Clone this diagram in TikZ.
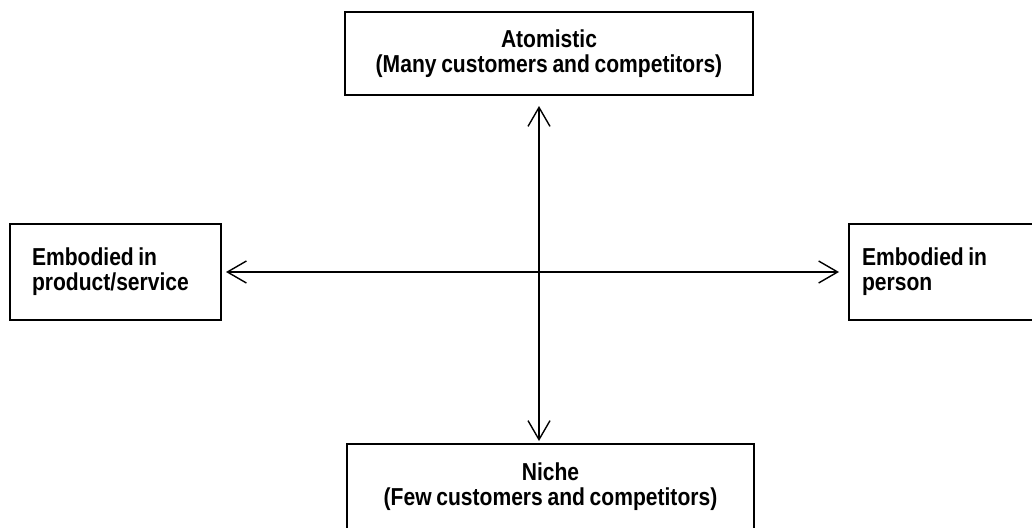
\documentclass[tikz,border=0pt]{standalone}
\usepackage{fontspec}
\setmainfont{Liberation Sans}[FakeStretch=0.86,WordSpace=0.8]
\usetikzlibrary{arrows.meta}
\newcommand{\tightsp}[1]{\mbox{\spaceskip=4.5pt #1}}
\tikzset{
  box/.style={draw=black, line width=2pt, rectangle, inner ysep=0pt,
    font=\bfseries\fontsize{24.5}{25}\selectfont},
  axis/.style={draw=black, line width=1.4pt,
    {Straight Barb[length=19pt,width=22pt,line width=1.4pt]}-{Straight Barb[length=19pt,width=22pt,line width=1.4pt]}}
}
\begin{document}
\begin{tikzpicture}[x=1pt,y=-1pt]
\useasboundingbox (0,0) rectangle (1032,527);
\node[box, minimum width=408pt, minimum height=83pt, align=center] (top) at (549,53.5)
  {Atomistic\\(Many customers and competitors)};
\node[box, text width=167pt, inner xsep=22pt, minimum height=96pt, align=left] (left) at (115.5,272)
  {\tightsp{Embodied in}\\product/service};
\node[box, text width=158pt, inner xsep=13pt, minimum height=96pt, align=left] (right) at (941,272)
  {\tightsp{Embodied in}\\person};
\node[box, minimum width=407pt, minimum height=85pt, align=center] (bot) at (550.5,486.5)
  {Niche\\(Few customers and competitors)};
\coordinate (vx) at (539,0);
\coordinate (hy) at (0,272);
\draw[axis, shorten <=10pt, shorten >=2pt] (top.south -| vx) -- (bot.north -| vx);
\draw[axis, shorten <=4pt, shorten >=9pt] (left.east |- hy) -- (right.west |- hy);
\end{tikzpicture}
\end{document}
